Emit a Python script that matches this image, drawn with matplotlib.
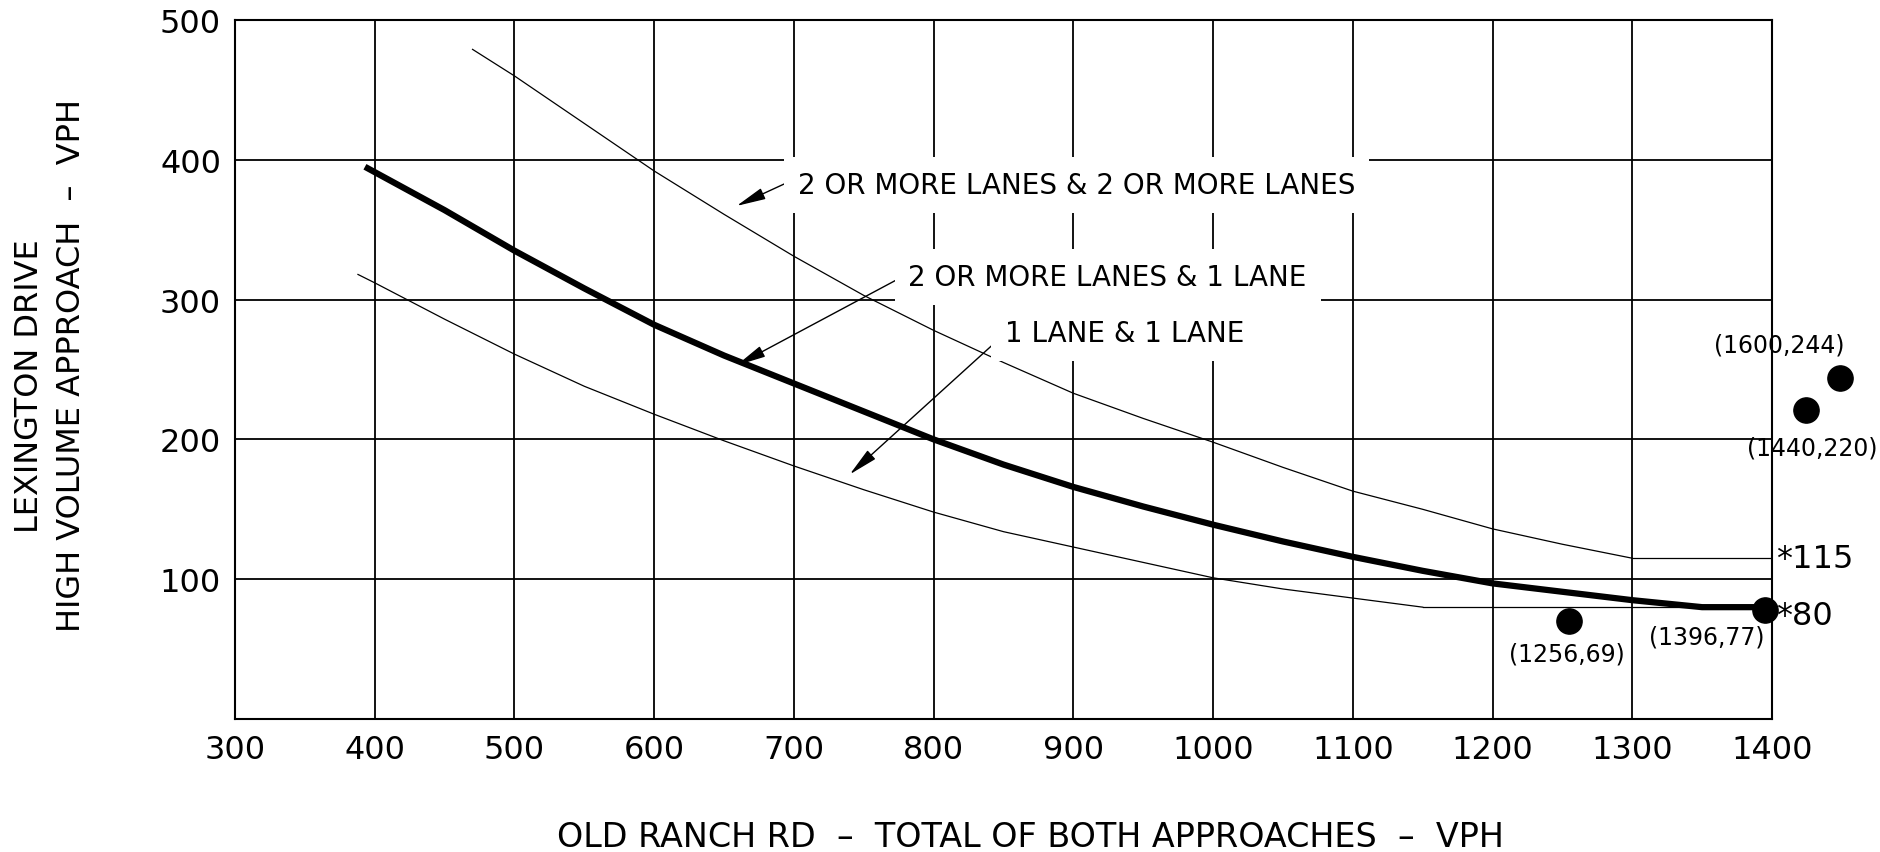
import matplotlib
matplotlib.use("Agg")
import matplotlib.pyplot as plt

# curve: 2 OR MORE LANES & 2 OR MORE LANES (thin, upper)
upper_x = [470, 500, 550, 600, 650, 700, 750, 800, 850, 900, 950, 1000, 1050, 1100, 1150, 1200, 1250, 1300]
upper_y = [479, 460, 426, 392, 361, 331, 303, 278, 255, 233, 215, 198, 180, 163, 150, 136, 125, 115]

# 2 OR MORE LANES & 1 LANE (thick, middle)
mid_x = [393, 450, 500, 550, 600, 650, 700, 750, 800, 850, 900, 950, 1000, 1050, 1100, 1150, 1200, 1250, 1300, 1350, 1400]
mid_y = [395, 364, 335, 308, 282, 260, 240, 220, 200, 182, 166, 152, 139, 127, 116, 106, 97, 91, 85, 80, 80]

# 1 LANE & 1 LANE (thin, lower)
low_x = [388, 400, 450, 500, 550, 600, 650, 700, 750, 800, 850, 900, 950, 1000, 1050, 1100, 1150]
low_y = [318, 312, 286, 261, 238, 218, 199, 181, 164, 148, 134, 123, 112, 101, 93, 86.5, 80]

# horizontal minimum lines
min115_x = [1300, 1400]
min115_y = [115, 115]
min80_x = [1150, 1400]
min80_y = [80, 80]

# plotted points (x where drawn on the sheet) and their labels
pt_x = [1255, 1395, 1424, 1449]
pt_y = [70, 78, 221, 244]
pt_labels = ["(1256,69)", "(1396,77)", "(1440,220)", "(1600,244)"]
pt_label_x = [1253, 1353, 1429, 1405]
pt_label_y = [47, 59, 194, 268]

x_ticks = [300, 400, 500, 600, 700, 800, 900, 1000, 1100, 1200, 1300, 1400]
y_ticks = [100, 200, 300, 400, 500]

plt.rcParams["font.family"] = ["DejaVu Sans"]

fig = plt.figure(figsize=(18.81, 8.53), dpi=100)
ax = fig.add_axes([235 / 1881, 1 - 720 / 853, (1772 - 235) / 1881, (720 - 21) / 853])

ax.set_xlim(300, 1400)
ax.set_ylim(0, 500)
ax.set_xticks(x_ticks)
ax.set_yticks(y_ticks)
ax.tick_params(length=0, labelsize=23)
ax.tick_params(axis="x", pad=11)
ax.tick_params(axis="y", pad=10)
ax.set_axisbelow(True)
ax.grid(True, color="black", linewidth=1.3)
for s in ax.spines.values():
    s.set_linewidth(1.5)

ax.plot(upper_x, upper_y, color="black", linewidth=0.9, zorder=2)
ax.plot(low_x, low_y, color="black", linewidth=0.9, zorder=2)
ax.plot(min115_x, min115_y, color="black", linewidth=0.9, zorder=2)
ax.plot(min80_x, min80_y, color="black", linewidth=0.9, zorder=2)
ax.plot(mid_x, mid_y, color="black", linewidth=4.5, zorder=3, solid_capstyle="butt")

ax.scatter(pt_x, pt_y, s=330, color="black", zorder=5, clip_on=False)
for lx, ly, t in zip(pt_label_x, pt_label_y, pt_labels):
    ax.text(lx, ly, t, fontsize=17, ha="center", va="center", clip_on=False)

ax.text(1403, 115, "*115", fontsize=23, ha="left", va="center", clip_on=False)
ax.text(1403, 74, "*80", fontsize=23, ha="left", va="center", clip_on=False)

# white boxes break the grid behind the notes, as on the drawing
box = dict(facecolor="white", edgecolor="none", pad=10)
arrow = dict(arrowstyle="-|>,head_length=0.9,head_width=0.18", color="black",
             linewidth=1.0, shrinkA=0, shrinkB=0, mutation_scale=20)
ax.annotate("", xy=(659, 367), xytext=(698, 385), arrowprops=arrow, zorder=4)
ax.text(703, 382, "2 OR MORE LANES & 2 OR MORE LANES", fontsize=20,
        ha="left", va="center", bbox=box, zorder=4)
ax.annotate("", xy=(659, 253), xytext=(777, 316), arrowprops=arrow, zorder=4)
ax.text(782, 316, "2 OR MORE LANES & 1 LANE", fontsize=20,
        ha="left", va="center", bbox=box, zorder=4)
ax.annotate("", xy=(740, 175), xytext=(847, 272), arrowprops=arrow, zorder=4)
ax.text(851, 276, "1 LANE & 1 LANE", fontsize=20,
        ha="left", va="center", bbox=box, zorder=4)

fig.text(30 / 1881, 1 - 386 / 853, "LEXINGTON DRIVE", fontsize=23,
         rotation=90, ha="center", va="center")
fig.text(72 / 1881, 1 - 365 / 853, "HIGH VOLUME APPROACH  \u2013  VPH", fontsize=23,
         rotation=90, ha="center", va="center")
fig.text(1030 / 1881, 1 - 838 / 853, "OLD RANCH RD  \u2013  TOTAL OF BOTH APPROACHES  \u2013  VPH",
         fontsize=24, ha="center", va="center")

fig.savefig("out.png", dpi=100)
